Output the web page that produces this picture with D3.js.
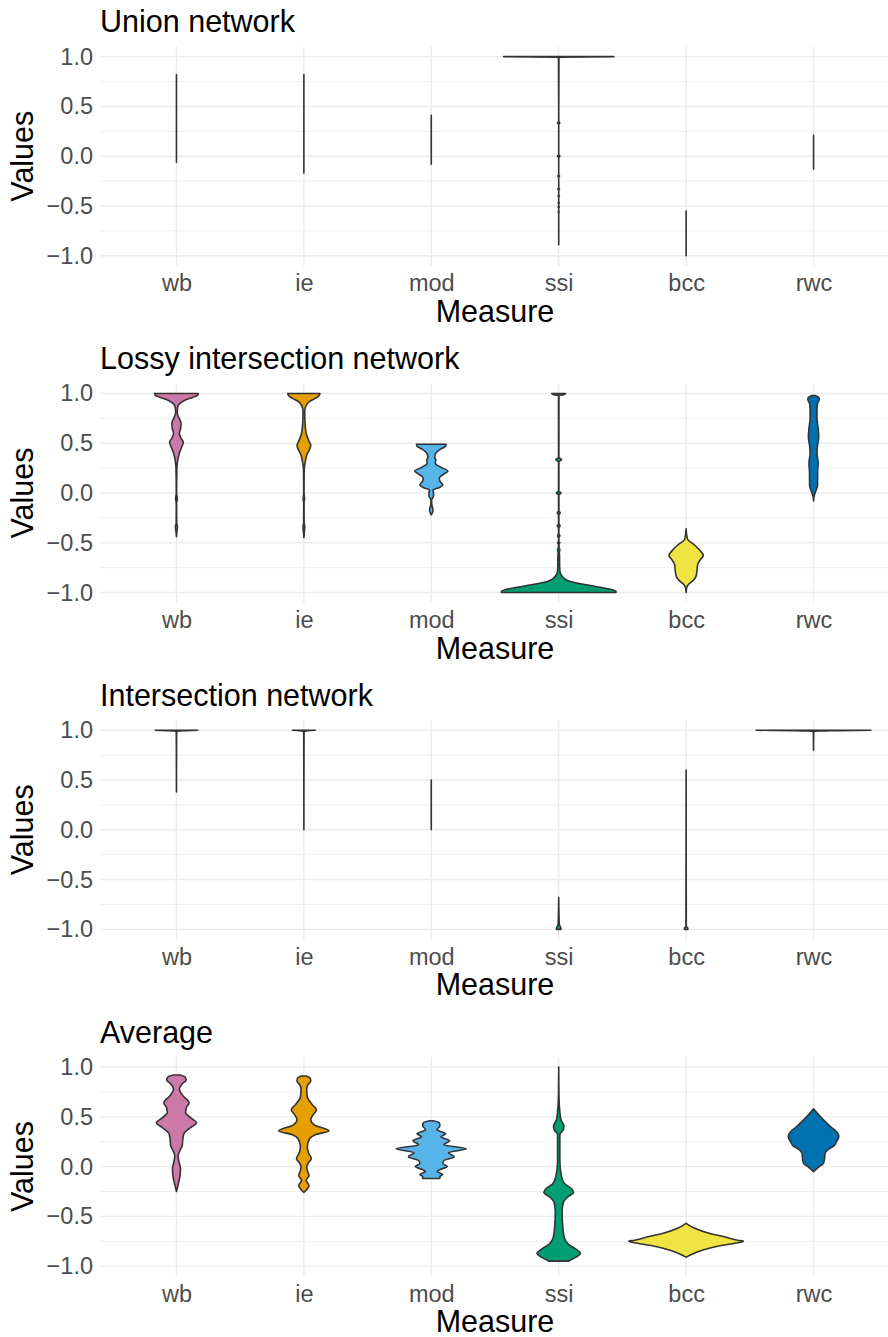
<!DOCTYPE html>
<html>
<head>
<meta charset="utf-8">
<script src="https://cdn.jsdelivr.net/npm/d3@7"></script>
<style>
  body { margin: 0; background: #fff; }
  text { font-family: "Liberation Sans", Arial, Helvetica, sans-serif; }
</style>
</head>
<body>
<svg id="chart" width="888" height="1337"></svg>
<script>
// categories / labels
var measures = ["wb", "ie", "mod", "ssi", "bcc", "rwc"];
var measureColors = ["#CC79A7", "#E69F00", "#56B4E9", "#009E73", "#F0E442", "#0072B2"];
var panelTitles = ["Union network", "Lossy intersection network", "Intersection network", "Average"];
var yTicks = [-1, -0.5, 0, 0.5, 1];
var yMinorTicks = [-0.75, -0.25, 0.25, 0.75];

// violin outlines: [value, relative half width], top to bottom
var unionViolins = [
  [[0.82, 0], [-0.06, 0]],
  [[0.82, 0], [-0.17, 0]],
  [[0.41, 0], [-0.08, 0]],
  [[1.0, 0.96], [0.995, 0.004], [0.35, 0], [0.335, 0.02], [0.32, 0], [0.015, 0], [0, 0.02], [-0.015, 0],
   [-0.19, 0], [-0.2, 0.015], [-0.21, 0], [-0.32, 0], [-0.33, 0.015], [-0.34, 0], [-0.39, 0], [-0.4, 0.012],
   [-0.41, 0], [-0.46, 0], [-0.47, 0.01], [-0.48, 0], [-0.5, 0], [-0.51, 0.01], [-0.52, 0], [-0.55, 0],
   [-0.56, 0.008], [-0.57, 0], [-0.89, 0]],
  [[-0.55, 0], [-1.0, 0]],
  [[0.21, 0], [-0.13, 0]]
];

var lossyViolins = [
  [[1.0, 0.38], [0.98, 0.37], [0.96, 0.28], [0.93, 0.14], [0.9, 0.06], [0.86, 0.02], [0.8, 0.015], [0.76, 0.04],
   [0.7, 0.08], [0.64, 0.07], [0.6, 0.05], [0.55, 0.08], [0.51, 0.12], [0.46, 0.09], [0.4, 0.05], [0.32, 0.02],
   [0.25, 0.008], [0.0, 0.003], [-0.06, 0.015], [-0.1, 0.003], [-0.3, 0.004], [-0.34, 0.018], [-0.4, 0.006], [-0.44, 0]],
  [[1.0, 0.28], [0.98, 0.27], [0.95, 0.2], [0.92, 0.1], [0.88, 0.04], [0.82, 0.015], [0.7, 0.02], [0.6, 0.04],
   [0.52, 0.09], [0.48, 0.12], [0.44, 0.1], [0.38, 0.05], [0.3, 0.02], [0.22, 0.005], [0.0, 0.003], [-0.06, 0.012],
   [-0.1, 0.003], [-0.3, 0.004], [-0.34, 0.016], [-0.4, 0.006], [-0.45, 0]],
  [[0.49, 0.26], [0.47, 0.25], [0.44, 0.16], [0.4, 0.08], [0.36, 0.06], [0.33, 0.08], [0.3, 0.07], [0.26, 0.16],
   [0.22, 0.29], [0.19, 0.22], [0.15, 0.14], [0.12, 0.15], [0.08, 0.2], [0.05, 0.12], [0.03, 0.03], [0.0, 0.04],
   [-0.03, 0.04], [-0.07, 0.005], [-0.12, 0.01], [-0.17, 0.03], [-0.21, 0.01], [-0.22, 0]],
  [[1.0, 0.12], [0.99, 0.1], [0.98, 0.004], [0.36, 0.003], [0.336, 0.05], [0.31, 0.003], [0.02, 0.003], [0, 0.04],
   [-0.02, 0.003], [-0.18, 0.003], [-0.2, 0.025], [-0.22, 0.003], [-0.31, 0.003], [-0.33, 0.025], [-0.35, 0.003],
   [-0.41, 0.003], [-0.43, 0.02], [-0.45, 0.003], [-0.49, 0.005], [-0.5, 0.02], [-0.51, 0.005], [-0.55, 0.005],
   [-0.57, 0.02], [-0.6, 0.01], [-0.64, 0.015], [-0.7, 0.015], [-0.78, 0.02], [-0.82, 0.04], [-0.86, 0.1],
   [-0.89, 0.2], [-0.92, 0.45], [-0.95, 0.75], [-0.97, 0.92], [-0.99, 1.0], [-1.0, 1.0]],
  [[-0.36, 0], [-0.42, 0.01], [-0.47, 0.03], [-0.52, 0.14], [-0.57, 0.23], [-0.63, 0.3], [-0.66, 0.26],
   [-0.72, 0.2], [-0.78, 0.19], [-0.84, 0.17], [-0.88, 0.12], [-0.92, 0.04], [-0.95, 0.01], [-1.0, 0]],
  [[0.98, 0.03], [0.96, 0.09], [0.94, 0.1], [0.9, 0.07], [0.84, 0.06], [0.75, 0.06], [0.65, 0.08], [0.56, 0.09],
   [0.48, 0.07], [0.4, 0.06], [0.3, 0.08], [0.2, 0.07], [0.08, 0.07], [0.02, 0.04], [-0.03, 0.01], [-0.08, 0]]
];

var intersectionViolins = [
  [[1.0, 0.37], [0.99, 0.01], [0.97, 0.003], [0.38, 0]],
  [[1.0, 0.2], [0.99, 0.01], [0.97, 0.003], [0.0, 0]],
  [[0.5, 0], [0.0, 0]],
  [[-0.68, 0], [-0.95, 0.01], [-0.99, 0.04], [-1.0, 0.04]],
  [[0.6, 0], [-0.97, 0.003], [-0.99, 0.03], [-1.0, 0.03]],
  [[1.0, 1.0], [0.99, 0.01], [0.97, 0.003], [0.8, 0]]
];

var averageViolins = [
  [[0.92, 0.06], [0.9, 0.15], [0.87, 0.17], [0.83, 0.1], [0.78, 0.05], [0.72, 0.1], [0.64, 0.22], [0.59, 0.17],
   [0.54, 0.16], [0.49, 0.25], [0.44, 0.35], [0.39, 0.24], [0.33, 0.13], [0.27, 0.11], [0.21, 0.1], [0.16, 0.06],
   [0.11, 0.03], [0.06, 0.04], [-0.02, 0.07], [-0.1, 0.06], [-0.18, 0.03], [-0.25, 0]],
  [[0.91, 0.04], [0.89, 0.11], [0.86, 0.12], [0.82, 0.07], [0.78, 0.05], [0.7, 0.06], [0.62, 0.15], [0.57, 0.22],
   [0.52, 0.16], [0.47, 0.12], [0.42, 0.18], [0.36, 0.44], [0.32, 0.2], [0.28, 0.1], [0.2, 0.06], [0.14, 0.08],
   [0.08, 0.13], [0.04, 0.08], [0.0, 0.05], [-0.04, 0.06], [-0.09, 0.09], [-0.14, 0.04], [-0.19, 0.09],
   [-0.23, 0.05], [-0.26, 0]],
  [[0.46, 0.03], [0.44, 0.14], [0.41, 0.15], [0.37, 0.1], [0.33, 0.25], [0.3, 0.17], [0.26, 0.32], [0.22, 0.22],
   [0.18, 0.61], [0.14, 0.3], [0.1, 0.4], [0.06, 0.22], [0.03, 0.2], [0, 0.28], [-0.03, 0.15], [-0.05, 0.1],
   [-0.08, 0.2], [-0.1, 0.15], [-0.12, 0.15]],
  [[1.0, 0], [0.7, 0.005], [0.55, 0.02], [0.47, 0.04], [0.41, 0.09], [0.37, 0.08], [0.32, 0.02], [0.2, 0.02],
   [0.05, 0.02], [-0.1, 0.05], [-0.17, 0.1], [-0.22, 0.22], [-0.26, 0.26], [-0.3, 0.17], [-0.36, 0.08],
   [-0.45, 0.06], [-0.6, 0.07], [-0.72, 0.1], [-0.78, 0.17], [-0.83, 0.3], [-0.87, 0.38], [-0.91, 0.3], [-0.95, 0.17]],
  [[-0.57, 0], [-0.62, 0.15], [-0.67, 0.4], [-0.71, 0.7], [-0.74, 0.9], [-0.75, 1.0], [-0.77, 0.85], [-0.8, 0.55],
   [-0.84, 0.28], [-0.88, 0.1], [-0.91, 0]],
  [[0.58, 0], [0.52, 0.09], [0.46, 0.19], [0.4, 0.3], [0.35, 0.4], [0.31, 0.44], [0.28, 0.43], [0.25, 0.4],
   [0.21, 0.36], [0.17, 0.25], [0.13, 0.2], [0.07, 0.19], [0.03, 0.17], [0.0, 0.1], [-0.05, 0]]
];

var panelViolins = [unionViolins, lossyViolins, intersectionViolins, averageViolins];

var svg = d3.select("#chart");
svg.append("rect").attr("width", 888).attr("height", 1337).attr("fill", "#fff");

var left = 100, right = 890,
    panelTop0 = 46.7, panelStep = 336.8, panelH = 219;

var x = d3.scalePoint().domain(measures).range([left, right]).padding(0.6);
var halfW = d3.scaleLinear().domain([0, 1]).range([0, x.step() * 0.45]);

panelTitles.forEach(function(title, p) {
  var top = panelTop0 + p * panelStep,
      bottom = top + panelH;
  var y = d3.scaleLinear().domain([-1.1, 1.1]).range([bottom, top]);
  var g = svg.append("g");

  // grid
  g.selectAll(".minor").data(yMinorTicks).enter().append("line")
    .attr("x1", left).attr("x2", right)
    .attr("y1", function(d) { return y(d); }).attr("y2", function(d) { return y(d); })
    .attr("stroke", "#ebebeb").attr("stroke-width", 0.8);
  g.selectAll(".major").data(yTicks).enter().append("line")
    .attr("x1", left).attr("x2", right)
    .attr("y1", function(d) { return y(d); }).attr("y2", function(d) { return y(d); })
    .attr("stroke", "#ebebeb").attr("stroke-width", 1.4);
  g.selectAll(".vgrid").data(measures).enter().append("line")
    .attr("x1", function(d) { return x(d); }).attr("x2", function(d) { return x(d); })
    .attr("y1", top).attr("y2", bottom)
    .attr("stroke", "#ebebeb").attr("stroke-width", 1.4);

  // violins
  panelViolins[p].forEach(function(prof, i) {
    var cx = x(measures[i]);
    var area = d3.area()
      .y(function(d) { return y(d[0]); })
      .x0(function(d) { return cx - halfW(d[1]); })
      .x1(function(d) { return cx + halfW(d[1]); })
      .curve(d3.curveMonotoneY);
    g.append("path")
      .attr("d", area(prof))
      .attr("fill", measureColors[i])
      .attr("stroke", "#333333")
      .attr("stroke-width", 1.6)
      .attr("stroke-linejoin", "round");
  });

  // axes
  var yAxis = g.append("g").attr("transform", "translate(" + left + ",0)")
    .call(d3.axisLeft(y).tickValues(yTicks).tickFormat(d3.format(".1f")).tickSize(0).tickPadding(7));
  yAxis.select(".domain").remove();
  yAxis.selectAll("text").attr("font-size", 23.5).attr("fill", "#4d4d4d")
    .style("font-family", "'Liberation Sans', Arial, sans-serif");

  var xAxis = g.append("g").attr("transform", "translate(0," + bottom + ")")
    .call(d3.axisBottom(x).tickSize(0).tickPadding(9));
  xAxis.select(".domain").remove();
  xAxis.selectAll("text").attr("font-size", 23.5).attr("fill", "#4d4d4d")
    .style("font-family", "'Liberation Sans', Arial, sans-serif");

  // titles
  g.append("text").attr("x", left).attr("y", top - 14.5)
    .attr("font-size", 30.5).attr("fill", "#000").text(title);
  g.append("text").attr("x", (left + right) / 2).attr("y", bottom + 56)
    .attr("text-anchor", "middle").attr("font-size", 30.5).attr("fill", "#000").text("Measure");
  g.append("text")
    .attr("transform", "translate(33," + ((top + bottom) / 2) + ") rotate(-90)")
    .attr("text-anchor", "middle").attr("font-size", 30.5).attr("fill", "#000").text("Values");
});
</script>
</body>
</html>
